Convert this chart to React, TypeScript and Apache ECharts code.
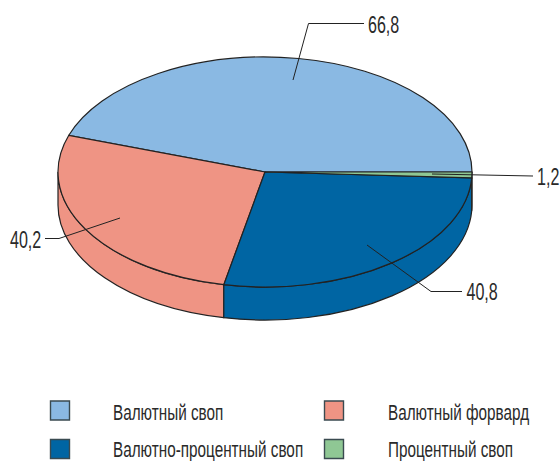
import React, { useEffect, useRef } from "react";
import * as echarts from "echarts";

const categories = ["Валютный своп", "Валютный форвард", "Валютно-процентный своп", "Процентный своп"];
const values = [66.8, 40.2, 40.8, 1.2];
const colors = ["#8ab9e3", "#ef9484", "#0065a3", "#8fc794"];

const FONT = "'Liberation Sans', sans-serif";
const INK = "#222222";
const CX = 265, CY = 172, RX = 207, RY = 115, DEPTH = 33;

const total = values.reduce((a, b) => a + b, 0);
const startOf = (i: number) => values.slice(0, i).reduce((a, b) => a + b, 0) / total * 360;
const pt = (deg: number, dy = 0) => {
  const r = deg * Math.PI / 180;
  return [CX + RX * Math.cos(r), CY - RY * Math.sin(r) + dy];
};

function topPath(a0: number, a1: number) {
  const [x0, y0] = pt(a0), [x1, y1] = pt(a1);
  const large = a1 - a0 > 180 ? 1 : 0;
  return `M${CX} ${CY}L${x0} ${y0}A${RX} ${RY} 0 ${large} 0 ${x1} ${y1}Z`;
}
function sidePath(a0: number, a1: number) {
  const [x0, y0] = pt(a0), [x1, y1] = pt(a1);
  const [x2, y2] = pt(a1, DEPTH), [x3, y3] = pt(a0, DEPTH);
  return `M${x0} ${y0}A${RX} ${RY} 0 0 0 ${x1} ${y1}L${x2} ${y2}A${RX} ${RY} 0 0 1 ${x3} ${y3}Z`;
}

const label = (text: string, x: number, y: number, fontSize: number, scaleX = 1) => ({
  type: "text", x, y, scaleX, silent: true,
  style: { text, fontFamily: FONT, fontSize, fill: "#2a2a2a", textAlign: "left", textVerticalAlign: "middle" },
});
const leader = (points: number[][]) => ({
  type: "polyline", silent: true, z: 10,
  shape: { points }, style: { stroke: INK, lineWidth: 1, fill: "none" },
});
const num = (v: number) => String(v).replace(".", ",");
const swatch = (i: number, x: number, y: number) => ({
  type: "rect", silent: true,
  shape: { x, y, width: 19, height: 19 },
  style: { fill: colors[i], stroke: "#3a4a50", lineWidth: 1.4 },
});

export default function App() {
  const ref = useRef<HTMLDivElement>(null);
  useEffect(() => {
    const chart = echarts.init(ref.current!, undefined, { renderer: "svg" });
    const data = values.map((v, i) => ({ value: v, name: categories[i] }));
    chart.setOption({
      animation: false,
      backgroundColor: "#ffffff",
      series: [
        {
          type: "custom", coordinateSystem: "none", z: 1, silent: true, data,
          renderItem: (p: any) => {
            const a0 = Math.max(startOf(p.dataIndex), 180);
            const a1 = Math.min(startOf(p.dataIndex + 1), 360);
            if (a1 <= a0) return { type: "group", children: [] };
            return {
              type: "path",
              shape: { pathData: sidePath(a0, a1) },
              style: { fill: colors[p.dataIndex], stroke: INK, lineWidth: 1.2 },
            };
          },
        },
        {
          type: "custom", coordinateSystem: "none", z: 2, silent: true, data,
          renderItem: (p: any) => ({
            type: "path",
            shape: { pathData: topPath(startOf(p.dataIndex), startOf(p.dataIndex + 1)) },
            style: { fill: colors[p.dataIndex], stroke: INK, lineWidth: 1.2 },
          }),
        },
      ],
      graphic: [
        leader([[293, 80], [308.5, 23.5], [364, 23.5]]),
        leader([[432, 174], [533, 176]]),
        leader([[367, 245], [431, 291.5], [462, 291.5]]),
        leader([[120, 218], [59, 238.5], [45, 238.5]]),
        label(num(values[0]), 368, 25, 24, 0.67),
        label(num(values[3]), 537, 177, 24, 0.67),
        label(num(values[2]), 466.5, 292, 24, 0.67),
        label(num(values[1]), 10, 240, 24, 0.67),
        swatch(0, 50.5, 401), swatch(1, 324.5, 401), swatch(2, 50.5, 439.5), swatch(3, 324.5, 439.5),
        label(categories[0], 113, 412, 22, 0.695),
        label(categories[1], 388, 412, 22, 0.695),
        label(categories[2], 113, 449.5, 22, 0.695),
        label(categories[3], 388, 449.5, 22, 0.695),
      ],
    });
    return () => chart.dispose();
  }, []);
  return <div ref={ref} style={{ position: "absolute", left: 0, top: 0, width: 560, height: 461 }} />;
}
